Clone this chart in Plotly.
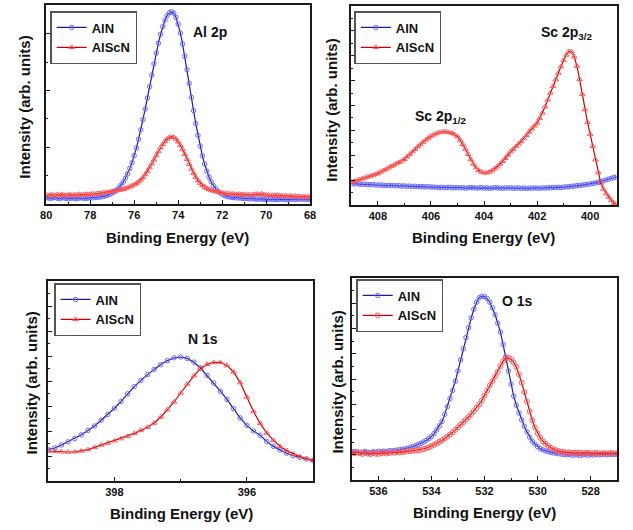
import numpy as np
import plotly.graph_objects as go

# ---------------- data (intensity in arbitrary units, 0-100 of frame height) ----------------
AL2P_RANGE = (80.0, 68.0)
AL2P_AlN = [3.2, 3.0, 2.8, 3.1, 3.3, 2.9, 2.7, 3.0, 3.2, 2.8, 2.6, 2.9, 3.1, 2.8, 2.7, 3.0, 3.1, 2.9, 2.8, 3.0,
            3.2, 3.1, 3.3, 3.4, 3.5, 3.6, 3.8,
            4.2, 4.5, 4.9, 5.5, 6.2, 7.0, 8.1, 9.4, 11.0, 12.9, 15.1, 17.9, 20.8, 24.3, 28.2, 32.6, 37.3, 42.4,
            47.7, 53.3, 59.0, 64.8, 70.4, 75.8, 80.8, 85.3, 89.2, 92.4, 94.7, 96.1,
            96.6,
            95.9, 93.8, 90.4, 85.9, 80.5, 74.2, 67.5, 60.6, 53.6, 46.9, 40.4, 34.5, 29.1, 24.2, 20.1, 16.5, 13.6,
            11.2, 9.3, 7.7, 6.5, 5.6, 4.9, 4.3, 3.9,
            3.6, 3.4, 3.3, 3.2, 3.0, 3.1, 2.9, 2.8, 2.9, 2.7, 2.6, 2.8, 2.5, 2.4, 2.6, 2.5, 2.3, 2.4, 2.2, 2.5,
            2.3, 2.4, 2.2, 2.3, 2.5, 2.4, 2.2, 2.3, 2.4, 2.5, 2.3, 2.4, 2.6, 2.4, 2.5, 2.3, 2.4, 2.5]
AL2P_AlScN = [4.6, 4.3, 4.8, 4.5, 4.2, 4.7, 4.4, 4.9, 4.5, 4.3, 4.6, 4.8, 4.4, 4.7, 4.5, 4.9, 4.6, 4.8, 5.0, 4.7,
              4.9, 5.1, 5.0, 5.2, 5.3, 5.5,
              5.6, 5.8, 5.9, 6.1, 6.3, 6.5, 6.7, 6.9, 7.1, 7.4, 7.8, 8.2, 8.7, 9.2, 9.7, 10.4, 11.2, 12.2, 13.4,
              14.8, 16.4, 18.3, 20.2, 22.2, 24.3, 26.4, 28.3, 30.0, 31.5, 32.7, 33.5,
              33.8,
              33.5, 32.7, 31.3, 29.5, 27.4, 25.0, 22.5, 20.0, 17.6, 15.4, 13.5, 11.8, 10.5, 9.4, 8.6, 7.9, 7.4,
              7.0, 6.6, 6.3, 6.0, 5.8, 5.6, 5.5, 5.3,
              5.2, 5.0, 5.1, 4.9, 4.8, 5.0, 4.7, 4.9, 4.6, 4.8, 4.5, 4.7, 4.9, 5.0, 4.8, 5.1, 4.7, 4.5, 4.6, 4.3,
              4.4, 4.2, 4.5, 4.1, 4.3, 4.0, 4.2, 3.9, 4.1, 3.8, 4.0, 3.7, 3.9, 3.6, 3.8, 3.7, 3.5, 3.7]

SC2P_RANGE = (409.0, 399.0)
SC2P_AlN = [10.8, 10.6, 10.7, 10.5, 10.4, 10.5, 10.3, 10.2, 10.3, 10.1, 10.0, 10.1, 9.9, 9.8, 9.9, 9.7, 9.8,
            9.6, 9.7, 9.5, 9.6, 9.4, 9.5, 9.3, 9.4, 9.2, 9.3, 9.2, 9.1, 9.2, 9.0,
            9.0, 8.9, 8.8, 8.9, 8.7, 8.8, 8.9, 8.6, 8.7, 8.8, 8.6, 8.7, 8.5, 8.6, 8.8, 8.7, 8.5, 8.6, 8.7, 8.5,
            8.6, 8.4, 8.5, 8.7, 8.6, 8.5, 8.4, 8.6, 8.5, 8.7, 8.4, 8.5, 8.6, 8.4, 8.5, 8.3, 8.5, 8.4, 8.6, 8.5,
            8.4, 8.6, 8.5, 8.7, 8.6, 8.8, 8.7, 8.9, 8.8, 9.0,
            9.1, 9.2, 9.4, 9.5, 9.7, 9.8, 10.0, 10.2, 10.4, 10.6, 10.8, 11.1, 11.4, 11.8, 12.2, 12.6, 13.0,
            13.4, 13.8, 14.2]
SC2P_AlScN = [11.5, 11.9, 12.3, 12.8, 13.2, 13.6, 14.1, 14.5, 15.0, 15.4,
              15.9, 16.6, 17.3, 18.0, 18.7, 19.4, 20.1, 20.8, 21.5, 22.2,
              23.0, 24.2, 25.5, 26.8, 28.0, 29.3, 30.4, 31.6, 32.7, 33.7,
              34.7, 35.3, 35.9, 36.4, 36.7, 36.9, 36.8, 36.5, 36.1, 35.4,
              34.4, 32.6, 30.5, 28.1, 25.5, 22.9, 20.6, 18.8, 17.4, 16.6,
              16.2, 16.2, 16.6, 17.3, 18.2, 19.3, 20.6, 22.0, 23.5, 25.1,
              26.8, 28.1, 29.4, 30.7, 32.0, 33.4, 35.0, 36.7, 38.3, 39.8,
              41.2, 43.6, 46.3, 49.4, 52.8, 56.3, 59.7, 63.0, 66.3, 69.6,
              72.6, 75.4, 77.2, 77.0, 74.5, 69.8, 63.2, 55.6, 48.0, 41.5,
              35.6, 29.5, 22.8, 16.4, 11.0, 8.0, 5.8, 4.0, 2.4, 0.9,
              0.0]

N1S_RANGE = (399.0, 395.0)
N1S_AlN = [15.8, 16.5, 18.0, 19.6, 21.2, 23.1, 25.3, 27.5, 30.4, 33.3,
           36.4, 39.8, 43.6, 47.2, 50.3, 53.2, 55.8, 58.2, 60.2, 61.6,
           62.0, 61.3, 59.4, 56.5, 52.8, 49.0, 44.9, 40.8, 36.2, 31.5,
           27.8, 25.0, 22.9, 19.8, 17.3, 15.5, 13.9, 12.6, 11.8, 11.0,
           10.3]
N1S_AlScN = [15.0, 14.8, 14.6, 14.5, 14.6, 15.0, 15.7, 16.8, 18.0, 19.0,
             20.1, 21.2, 22.4, 23.8, 25.3, 26.9, 29.0, 32.0, 35.6, 39.5,
             44.0, 48.5, 52.6, 56.2, 58.3, 59.3, 59.3, 57.8, 54.5, 49.2,
             42.0, 34.8, 28.8, 24.0, 20.3, 17.4, 15.2, 13.6, 12.2, 11.2,
             10.3]

O1S_RANGE = (537.0, 527.0)
O1S_AlN = [13.9, 14.2, 13.8, 13.5, 13.9, 14.1, 13.7, 13.6, 14.0, 13.8, 14.2, 14.0, 14.3, 14.1, 14.5, 14.4,
           14.6, 14.8, 15.0, 15.2, 15.4, 15.7, 16.1, 16.5, 17.0, 17.5, 18.1, 18.8, 19.6, 20.5, 21.5,
           23.0, 24.8, 26.8, 29.0, 32.5, 36.4, 40.3, 44.3, 48.9, 54.0, 59.5, 65.0, 70.5, 75.5, 80.3,
           84.5, 88.0, 90.2, 91.0, 90.8, 89.8, 88.0, 85.3, 81.8, 77.6, 73.2, 67.2, 61.0, 54.0, 47.5,
           41.5, 37.0, 33.2, 29.8, 26.6, 23.8, 21.2, 19.2, 17.8, 16.5, 15.5, 14.9, 14.4, 14.0, 13.7,
           13.4, 13.2, 13.0, 12.8, 12.7,
           12.5, 12.6, 12.3, 12.4, 12.5, 12.2, 12.4, 12.6, 12.3, 12.5, 12.4, 12.7, 12.5, 12.6, 12.8,
           12.5, 12.7, 12.6, 12.8, 12.7]
O1S_AlScN = [13.6, 13.3, 13.8, 13.2, 12.9, 13.4, 13.1, 12.8, 13.3, 13.0, 12.9, 13.2, 13.5, 13.1, 13.4, 13.6,
             13.5, 13.8, 13.6, 13.9, 14.0, 14.2, 14.3, 14.5, 14.6, 14.8, 15.0, 15.3, 15.7, 16.2, 16.8,
             17.4, 18.1, 18.9, 19.7, 20.6, 21.5, 22.5, 23.6, 24.8, 26.0, 27.3, 28.6, 29.9, 31.2, 32.6,
             34.1, 35.7, 37.5, 39.4, 41.8, 44.3, 46.8, 49.0, 51.3, 53.5, 56.4, 58.8, 60.2, 60.5, 59.8,
             58.2, 56.0, 52.3, 48.2, 43.5, 38.8, 34.0, 29.6, 26.0, 23.2, 21.0, 19.2, 17.9, 16.8, 15.9,
             15.2, 14.7, 14.3, 14.0, 13.8,
             13.6, 13.7, 13.4, 13.5, 13.3, 13.6, 13.2, 13.4, 13.5, 13.1, 13.3, 13.4, 13.2, 13.0, 13.3,
             13.1, 13.2, 13.4, 13.0, 13.2]

SERIES_NAMES = ["AlN", "AlScN"]
PEAK_LABELS = ["Al 2p", "Sc 2p<sub>1/2</sub>", "Sc 2p<sub>3/2</sub>", "N 1s", "O 1s"]
X_TITLE = "Binding Energy (eV)"
Y_TITLE = "Intensity (arb. units)"
STEP = 0.1


def energy_grid(rng, values):
    n = int(round((rng[0] - rng[1]) / STEP)) + 1
    assert len(values) == n, (rng, len(values), n)
    return np.round(np.linspace(rng[0], rng[1], n), 2)


# ---------------- layout geometry (pixels) ----------------
W, H = 633, 530
FONT = "Liberation Sans, Arial, sans-serif"
BLUE_LINE, BLUE_MARK = "#1c1c9a", "#6a6aff"
RED_LINE, RED_MARK = "#c80000", "#ff5a5a"
FRAME = "#1a1a1a"

# (left, right, top, bottom) of each frame in pixels
BOXES = [(41, 310, 5, 204), (352, 622.5, 6, 205), (43, 313, 281, 481), (352.5, 623, 278, 480)]
PANELS = [
    (AL2P_RANGE, AL2P_AlN, AL2P_AlScN, "triangle-up-open", 28.5),
    (SC2P_RANGE, SC2P_AlN, SC2P_AlScN, "triangle-up-open", 12.5),
    (N1S_RANGE, N1S_AlN, N1S_AlScN, "triangle-up-open", 12.5),
    (O1S_RANGE, O1S_AlN, O1S_AlScN, "circle-open", 12.5),
]
LEGEND_POS = [(45, 11), (355, 11), (49, 283), (357, 279)]


def px(x):
    return x / W


def py(y):
    return 1 - y / H


fig = go.Figure()
layout = dict(width=W, height=H, margin=dict(l=0, r=0, t=0, b=0),
              paper_bgcolor="white", plot_bgcolor="white",
              font=dict(family=FONT, color="#111"), showlegend=True)

for i, (rng, aln, alscn, red_sym, ytick) in enumerate(PANELS):
    k = "" if i == 0 else str(i + 1)
    leg = "legend" if i == 0 else "legend" + str(i + 1)
    E = energy_grid(rng, aln)
    E2 = energy_grid(rng, alscn)
    fig.add_trace(go.Scatter(x=E, y=aln, mode="lines+markers", name=SERIES_NAMES[0],
                             xaxis="x" + k, yaxis="y" + k, legend=leg,
                             line=dict(color=BLUE_LINE, width=1.2),
                             marker=dict(symbol="circle-open", size=4.5, color=BLUE_MARK,
                                         line=dict(width=1))))
    fig.add_trace(go.Scatter(x=E2, y=alscn, mode="lines+markers", name=SERIES_NAMES[1],
                             xaxis="x" + k, yaxis="y" + k, legend=leg,
                             line=dict(color=RED_LINE, width=1.2),
                             marker=dict(symbol=red_sym, size=5, color=RED_MARK,
                                         line=dict(width=1))))
    l, r, t, b = BOXES[i]
    layout["xaxis" + k] = dict(domain=[px(l), px(r)], range=list(rng), anchor="y" + k,
                               showline=True, linecolor=FRAME, linewidth=1.5, mirror=True,
                               showgrid=False, zeroline=False,
                               ticks="inside", ticklen=4, tickwidth=1, tickcolor=FRAME,
                               tick0=396 if i == 2 else 400, dtick=2,
                               minor=dict(ticks="inside", ticklen=2, dtick=1, tickcolor=FRAME),
                               tickfont=dict(size=11, weight="bold", color="#111"))
    layout["yaxis" + k] = dict(domain=[py(b), py(t)], range=[0, 100], anchor="x" + k,
                               showline=True, linecolor=FRAME, linewidth=1.5, mirror=True,
                               showgrid=False, zeroline=False, showticklabels=False,
                               ticks="inside", ticklen=4, tickwidth=1, tickcolor=FRAME,
                               tick0=0, dtick=ytick,
                               minor=dict(ticks="inside", ticklen=2, dtick=ytick / 2, tickcolor=FRAME))
    lx, ly = LEGEND_POS[i]
    layout[leg] = dict(x=px(lx), y=py(ly), xanchor="left", yanchor="top",
                       bgcolor="white", bordercolor="#555", borderwidth=1.5,
                       font=dict(size=13, weight="bold", color="#111"),
                       tracegroupgap=0, itemwidth=30)

ann = []
# y-axis titles
for (x, y) in [(18, 107), (332, 110), (25, 383), (337, 382)]:
    ann.append(dict(x=px(x), y=py(y), xref="paper", yref="paper", text="<b>" + Y_TITLE + "</b>",
                    xanchor="center", yanchor="middle",
                    textangle=-90, showarrow=False, font=dict(size=15, color="#111")))
# x-axis titles
for (x, y) in [(175, 237), (487, 237), (179, 513), (488, 512)]:
    ann.append(dict(x=px(x), y=py(y), xref="paper", yref="paper", text="<b>" + X_TITLE + "</b>",
                    xanchor="center", yanchor="middle",
                    showarrow=False, font=dict(size=15, color="#111")))
# peak labels
for text, (x, y) in zip(PEAK_LABELS, [(208, 32), (443, 117), (572, 33), (201, 339), (521, 301)]):
    ann.append(dict(x=px(x), y=py(y), xref="paper", yref="paper", text="<b>" + text + "</b>",
                    xanchor="center", yanchor="middle",
                    showarrow=False, font=dict(size=14, color="#111")))
layout["annotations"] = ann

fig.update_layout(**layout)
fig.write_html("out.html", config={"displayModeBar": False},
               post_script="document.body.style.margin='0';")
